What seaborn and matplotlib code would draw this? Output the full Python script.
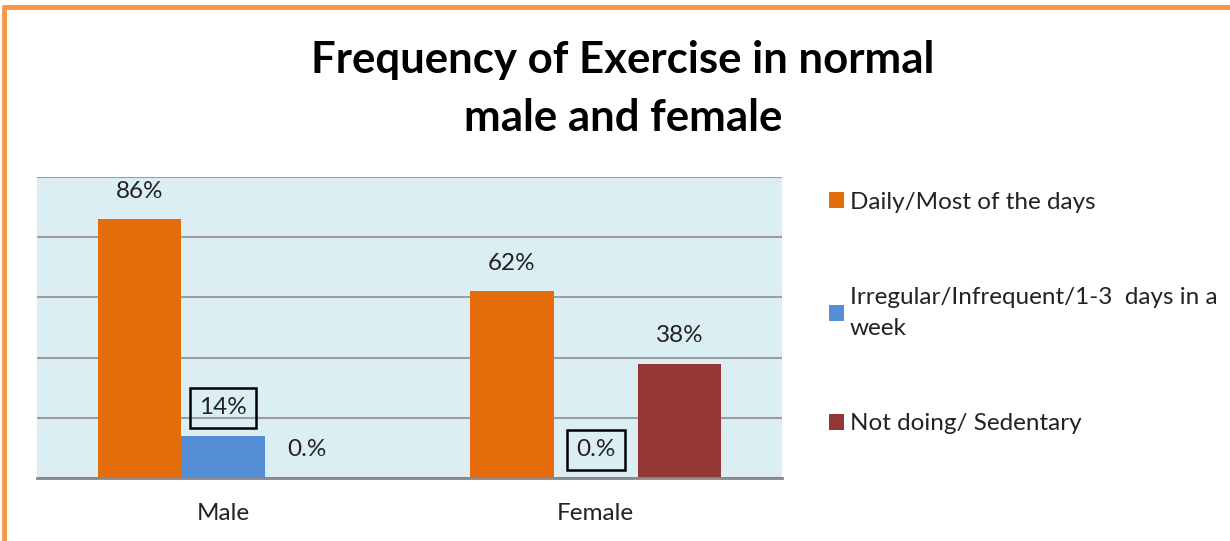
import matplotlib
matplotlib.use("Agg")
import matplotlib.pyplot as plt
from matplotlib.lines import Line2D
from matplotlib.patches import Patch
import seaborn as sns
import pandas as pd

# ---- data ----
groups = ["Male", "Female"]
series = ["Daily/Most of the days",
          "Irregular/Infrequent/1-3  days in a\nweek",
          "Not doing/ Sedentary"]
daily = [86, 62]
irregular = [14, 0]
sedentary = [0, 38]
daily_labels = ["86%", "62%"]
irregular_labels = ["14%", "0.%"]
sedentary_labels = ["0.%", "38%"]
title = "Frequency of Exercise in normal\nmale and female"

colors = ["#E46C0A", "#558ED5", "#953735"]
boxed = {(1, 0), (1, 1)}  # (series index, group index) labels drawn with a frame

values = [daily, irregular, sedentary]
labels = [daily_labels, irregular_labels, sedentary_labels]
rows = []
for s, vals in zip(series, values):
    for g, v in zip(groups, vals):
        rows.append({"group": g, "series": s, "value": v})
df = pd.DataFrame(rows)

sns.set_theme(style="white")
plt.rcParams["font.family"] = ["Lato", "DejaVu Sans"]

fig = plt.figure(figsize=(12.3, 5.41), dpi=100)
ax = fig.add_axes([37/1230, 63/541, 745/1230, 301/541])

sns.barplot(data=df, x="group", y="value", hue="series", order=groups,
            hue_order=series, palette=colors, saturation=1, width=0.675,
            ax=ax, legend=False, linewidth=0, edgecolor="none")

ax.set_facecolor("#DBEEF4")
ax.set_ylim(0, 100)
ax.set_xlim(-0.5, 1.5)
ax.set_yticks([0, 20, 40, 60, 80, 100])
ax.set_yticklabels([])
ax.tick_params(axis="y", length=0)
ax.tick_params(axis="x", length=0, pad=18, labelsize=17.5, labelcolor="#222222")
ax.yaxis.grid(True, color="#9E9E9E", linewidth=1.5)
ax.set_axisbelow(True)
for sp in ["left", "right", "top"]:
    ax.spines[sp].set_visible(False)
ax.spines["bottom"].set_color("#888888")
ax.spines["bottom"].set_linewidth(2)
ax.set_xlabel("")
ax.set_ylabel("")

for si, cont in enumerate(ax.containers):
    for gi, bar in enumerate(cont):
        x = bar.get_x() + bar.get_width() / 2
        h = bar.get_height()
        kw = {}
        if (si, gi) in boxed:
            kw["bbox"] = dict(boxstyle="square,pad=0.38", fc="none", ec="black", lw=1.8)
        ax.annotate(labels[si][gi], (x, h), xytext=(0, 28), textcoords="offset pixels",
                    ha="center", va="center", fontsize=17.5, color="#222222", **kw)

fig.text(623/1230, 1 - 89/541, title, ha="center", va="center", fontsize=31.5,
         fontweight="bold", color="black", linespacing=1.55)

handles = [Patch(facecolor=c, edgecolor="none") for c in colors]
leg = fig.legend(handles, series, loc="upper left", bbox_to_anchor=(807/1230, 1 - 170/541),
                 frameon=False, fontsize=17.5, handlelength=0.62, handleheight=0.62,
                 handletextpad=0.25, labelspacing=3.05, labelcolor="#222222")
for t in leg.get_texts():
    t.set_linespacing(1.6)

# orange frame
fig.add_artist(Line2D([2/1230, 1], [1 - 6.5/541, 1 - 6.5/541], transform=fig.transFigure,
                      color="#F79646", linewidth=3.5, solid_capstyle="butt"))
fig.add_artist(Line2D([3.5/1230, 3.5/1230], [0, 1 - 6.5/541], transform=fig.transFigure,
                      color="#F79646", linewidth=3.5, solid_capstyle="butt"))

fig.savefig("out.png", dpi=100)
